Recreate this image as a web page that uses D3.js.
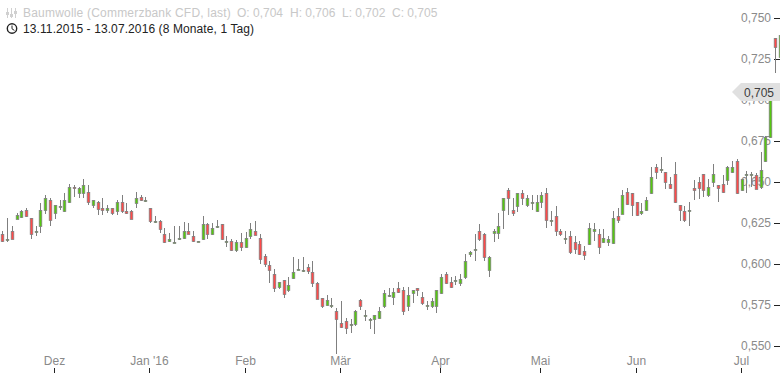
<!DOCTYPE html>
<html>
<head>
<meta charset="utf-8">
<script src="https://cdn.jsdelivr.net/npm/d3@7"></script>
<style>
  html, body { margin: 0; padding: 0; background: #fff; }
  svg { display: block; font-family: "Liberation Sans", Arial, sans-serif; font-size: 12px; }
  .tick text { fill: #8a8a8a; }
  .tick line { stroke: #222; }
</style>
</head>
<body>
<div id="chart"></div>
<script>
// daily candles, values
const opens = [.6181,.6147,.6202,.6277,.6287,.6327,.6279,.6200,.6228,.6325,.6388,.6307,.6348,.6319,.6374,.6467,.6429,.6435,.6437,.6356,.6378,.6340,.6325,.6340,.6319,.6376,.6321,.6323,.6368,.6407,.6386,.6340,.6262,.6260,.6181,.6137,.6135,.6149,.6155,.6202,.6169,
  .6136,.6148,.6242,.6181,.6226,.6242,.6132,.6138,.6086,.6132,.6100,.6167,.6199,.6157,.6047,.5994,.5937,.5856,.5901,.5840,.5915,.5966,.5958,.5980,.5949,.5885,.5791,.5746,.5744,.5712,.5639,.5651,.5633,.5635,.5779,.5684,.5663,.5661,.5667,.5740,
  .5806,.5796,.5852,.5840,.5741,.5820,.5852,.5798,.5743,.5741,.5741,.5820,.5938,.5889,.5899,.5881,.5917,.6057,.6088,.6200,.6183,.5960,.6185,.6185,.6325,.6449,.6327,.6350,.6431,.6356,.6374,.6319,.6376,.6431,.6264,.6291,.6202,.6155,.6169,.6132,.6120,
  .6080,.6119,.6198,.6182,.6131,.6131,.6129,.6291,.6307,.6437,.6431,.6377,.6307,.6326,.6429,.6590,.6575,.6559,.6486,.6547,.6358,.6322,.6326,.6462,.6498,.6547,.6417,.6498,.6480,.6486,.6510,.6557,.6626,.6448,.6541,.6541,.6541,.6466,
  .6628,.6774,.7378,.7262];
const highs = [.6202,.6281,.6232,.6309,.6329,.6340,.6281,.6232,.6374,.6421,.6400,.6360,.6390,.6433,.6486,.6482,.6469,.6518,.6482,.6390,.6384,.6402,.6360,.6344,.6388,.6421,.6372,.6329,.6439,.6421,.6407,.6342,.6293,.6266,.6220,.6189,.6232,.6232,.6256,.6250,.6202,
  .6140,.6293,.6248,.6248,.6268,.6244,.6169,.6152,.6146,.6189,.6193,.6250,.6260,.6183,.6061,.6019,.5968,.5893,.5903,.5923,.6043,.6033,.6043,.6000,.6016,.5891,.5791,.5811,.5791,.5730,.5775,.5669,.5663,.5720,.5789,.5720,.5669,.5690,.5740,.5842,
  .5852,.5852,.5889,.5858,.5858,.5840,.5852,.5828,.5775,.5791,.5840,.5940,.5952,.5919,.5929,.5938,.6061,.6080,.6183,.6244,.6189,.6047,.6212,.6311,.6402,.6461,.6402,.6433,.6449,.6419,.6419,.6419,.6439,.6463,.6321,.6352,.6216,.6202,.6202,.6171,.6141,
  .6107,.6249,.6249,.6212,.6212,.6171,.6322,.6342,.6450,.6462,.6435,.6379,.6370,.6407,.6592,.6610,.6653,.6561,.6533,.6620,.6360,.6354,.6376,.6513,.6531,.6547,.6517,.6610,.6482,.6543,.6596,.6626,.6638,.6519,.6565,.6559,.6553,.6681,
  .6780,.7055,.7378,.7470];
const lows = [.6135,.6135,.6153,.6273,.6283,.6285,.6155,.6173,.6191,.6305,.6234,.6277,.6329,.6317,.6372,.6411,.6402,.6402,.6362,.6342,.6301,.6301,.6313,.6297,.6301,.6309,.6305,.6275,.6344,.6382,.6380,.6252,.6252,.6191,.6126,.6135,.6126,.6147,.6151,.6183,.6135,
  .6136,.6146,.6152,.6177,.6222,.6146,.6106,.6081,.6075,.6077,.6096,.6155,.6175,.6000,.5982,.5887,.5830,.5846,.5793,.5828,.5911,.5966,.5954,.5941,.5860,.5787,.5734,.5742,.5734,.5452,.5612,.5574,.5580,.5623,.5720,.5655,.5604,.5574,.5665,.5734,
  .5800,.5753,.5826,.5686,.5716,.5765,.5802,.5747,.5722,.5733,.5704,.5818,.5881,.5856,.5875,.5863,.5911,.6045,.6021,.6143,.6021,.5923,.6137,.6155,.6216,.6299,.6295,.6315,.6358,.6346,.6327,.6317,.6344,.6222,.6232,.6173,.6173,.6124,.6063,.6061,.6055,
  .6025,.6117,.6141,.6062,.6127,.6107,.6125,.6247,.6303,.6360,.6293,.6293,.6299,.6324,.6425,.6521,.6557,.6456,.6456,.6374,.6265,.6255,.6234,.6393,.6395,.6407,.6411,.6472,.6381,.6435,.6484,.6557,.6425,.6443,.6435,.6472,.6456,.6456,
  .6622,.6770,.7164,.7262];
const closes = [.6137,.6151,.6155,.6299,.6323,.6289,.6181,.6202,.6327,.6400,.6264,.6358,.6352,.6388,.6467,.6461,.6461,.6482,.6374,.6388,.6338,.6325,.6340,.6307,.6376,.6319,.6307,.6277,.6400,.6386,.6388,.6258,.6264,.6210,.6130,.6151,.6137,.6157,.6200,.6185,.6137,
  .6140,.6242,.6181,.6217,.6230,.6148,.6138,.6086,.6132,.6100,.6157,.6211,.6177,.6027,.5996,.5966,.5850,.5889,.5818,.5870,.5949,.5970,.5964,.5958,.5880,.5789,.5740,.5779,.5748,.5661,.5617,.5606,.5637,.5714,.5740,.5688,.5667,.5688,.5712,.5822,
  .5810,.5828,.5828,.5710,.5810,.5840,.5840,.5759,.5749,.5773,.5840,.5919,.5881,.5858,.5901,.5907,.6017,.6072,.6090,.6149,.6045,.6041,.6200,.6230,.6400,.6400,.6307,.6431,.6400,.6400,.6376,.6376,.6419,.6264,.6266,.6197,.6185,.6157,.6070,.6088,.6057,
  .6058,.6218,.6212,.6102,.6157,.6151,.6279,.6265,.6421,.6366,.6356,.6297,.6322,.6389,.6529,.6557,.6577,.6498,.6464,.6377,.6328,.6265,.6328,.6448,.6460,.6448,.6468,.6547,.6460,.6435,.6590,.6590,.6429,.6517,.6547,.6547,.6458,.6571,
  .6774,.7050,.7323,.7396];

const yTicks = [0.55, 0.575, 0.6, 0.625, 0.65, 0.675, 0.7, 0.725, 0.75];
const monthLabels = ["Dez", "Jan '16", "Feb", "Mär", "Apr", "Mai", "Jun", "Jul"];
const monthStarts = [11, 31, 51, 71, 92, 113, 133, 155]; // candle index of the 1st trading day
const lastPrice = 0.705;
const quoteParts = ["O: 0,704", "H: 0,706", "L: 0,702", "C: 0,705"];
const quoteStarts = [237, 290, 342, 392];

const width = 780, height = 373;
const upColor = "#55c810", downColor = "#ff4a4a", wickColor = "#7f7f7f";

const comma = v => d3.format(".3f")(v).replace(".", ",");
const candles = opens.map((o, i) => ({ i, o, h: highs[i], l: lows[i], c: closes[i] }));

const x = d3.scaleLinear().domain([0, opens.length - 1]).range([2.3, 779.8]);
const y = d3.scaleLinear().domain([0.55, 0.75]).range([346, 18]);

const svg = d3.select("#chart").append("svg")
  .attr("width", width)
  .attr("height", height);

// axes go first, candles run over the labels
const yAxis = svg.append("g")
  .attr("transform", `translate(${width},0)`)
  .call(d3.axisLeft(y).tickValues(yTicks).tickFormat(comma).tickSize(6).tickPadding(3));
yAxis.select(".domain").remove();
yAxis.selectAll(".tick text").style("font-size", "12px").style("font-family", "inherit");

const xTickScale = x.copy().range([1.3, 778.8]).interpolate(d3.interpolateRound);
const xAxis = svg.append("g")
  .attr("transform", `translate(0,${height})`)
  .call(d3.axisTop(xTickScale).tickValues(monthStarts).tickFormat((d, i) => monthLabels[i]).tickSize(5).tickPadding(3));
xAxis.select(".domain").remove();
xAxis.selectAll(".tick text").style("font-size", "12px").style("font-family", "inherit");

// candles
const px = d => Math.round(x(d.i)) + 0.5;

const groups = svg.append("g")
  .selectAll("g")
  .data(candles)
  .enter()
  .append("g");

groups.append("line")
  .attr("x1", px)
  .attr("x2", px)
  .attr("y1", d => y(d.h))
  .attr("y2", d => y(d.l))
  .attr("stroke", wickColor)
  .attr("shape-rendering", "crispEdges");

groups.append("rect")
  .attr("x", d => px(d) - 1.3)
  .attr("width", 2.6)
  .attr("y", d => Math.round(y(Math.max(d.o, d.c))) + 0.5)
  .attr("height", d => Math.max(1, Math.round(Math.abs(y(d.o) - y(d.c)))))
  .attr("fill", d => d.c >= d.o ? upColor : downColor)
  .attr("stroke", wickColor)
  .attr("stroke-width", 0.75);

// price tag
const tagY = Math.round(y(lastPrice));
svg.append("path")
  .attr("d", `M732,${tagY} L741,${tagY - 9} H780 V${tagY + 9} H741 Z`)
  .attr("fill", "#e0e0e0");
svg.append("text")
  .attr("x", 744)
  .attr("y", tagY + 5)
  .attr("fill", "#3c3c3c")
  .text(comma(lastPrice));

// header
const header = svg.append("g");

header.append("path")
  .attr("d", "M7.5,8V18 M11.5,8V18 M15.5,8V18")
  .attr("stroke", "#d0d0d0");
header.selectAll("rect")
  .data([[6, 12], [10, 14], [14, 11]])
  .enter()
  .append("rect")
  .attr("x", d => d[0])
  .attr("y", d => d[1])
  .attr("width", 3)
  .attr("height", 3)
  .attr("fill", "#d0d0d0");

header.append("text")
  .attr("x", 23)
  .attr("y", 17)
  .attr("fill", "#c8c8c8")
  .style("letter-spacing", "0.2px")
  .text("Baumwolle (Commerzbank CFD, last)");

header.selectAll(".quote")
  .data(quoteParts)
  .enter()
  .append("text")
  .attr("class", "quote")
  .attr("x", (d, i) => quoteStarts[i])
  .attr("y", 17)
  .attr("fill", "#c8c8c8")
  .text(d => d);

header.append("circle")
  .attr("cx", 12)
  .attr("cy", 28.5)
  .attr("r", 4.7)
  .attr("fill", "none")
  .attr("stroke", "#222")
  .attr("stroke-width", 1.4);
header.append("path")
  .attr("d", "M12,25.5V28.8L14.4,30.4")
  .attr("fill", "none")
  .attr("stroke", "#222");

header.append("text")
  .attr("x", 23)
  .attr("y", 33)
  .attr("fill", "#222")
  .style("letter-spacing", "0.1px")
  .text("13.11.2015 - 13.07.2016 (8 Monate, 1 Tag)");
</script>
</body>
</html>
